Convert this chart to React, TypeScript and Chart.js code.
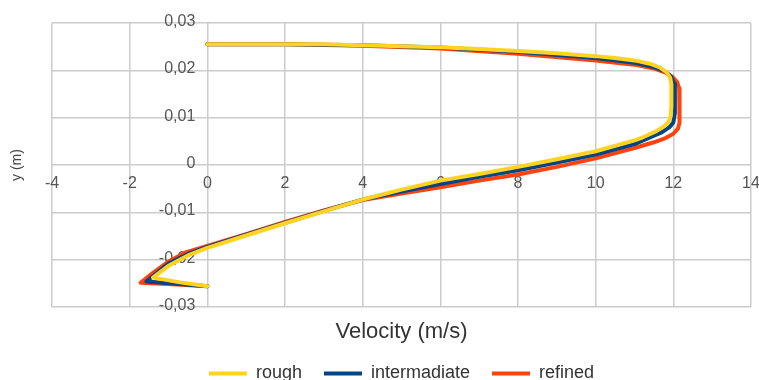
import React, { useEffect, useRef } from 'react';
import { Chart, registerables } from 'chart.js';

Chart.register(...registerables);

// ---- Data (velocity in m/s, position y in m) ----
const roughVel = [0, 1, 2, 3, 4, 5, 6, 7, 8, 9, 10, 10.5, 11, 11.4, 11.65, 11.82, 11.92, 11.95, 11.95, 11.93, 11.87, 11.75, 11.55, 11.2, 11, 10, 9, 8, 7, 6, 5, 4, 3, 2, 1, 0, -0.5, -1.0, -1.4, -0.7, 0];
const roughPos = [0.0255, 0.0255, 0.0255, 0.0255, 0.0253, 0.0251, 0.0249, 0.0245, 0.0241, 0.0236, 0.0230, 0.0226, 0.0221, 0.0214, 0.0206, 0.0196, 0.0184, 0.0170, 0.0125, 0.0102, 0.0090, 0.0081, 0.0071, 0.0058, 0.0052, 0.0029, 0.0012, -0.0004, -0.0019, -0.0033, -0.0052, -0.0073, -0.0098, -0.0123, -0.0149, -0.0175, -0.0191, -0.0213, -0.0238, -0.0248, -0.0256];

const intermVel = [0, 2, 4, 6, 8, 10, 11, 11.5, 11.8, 11.95, 12.02, 12.04, 12.04, 12.0, 11.9, 11.7, 11.5, 11, 10, 9, 8, 7, 6, 5, 4, 3, 2, 1, 0, -0.5, -1.0, -1.57, -0.8, 0];
const intermPos = [0.0255, 0.0255, 0.0253, 0.0248, 0.0239, 0.0226, 0.0216, 0.0207, 0.0197, 0.0186, 0.0172, 0.0150, 0.0110, 0.0090, 0.0080, 0.0069, 0.0062, 0.0044, 0.0022, 0.0005, -0.0011, -0.0025, -0.0040, -0.0056, -0.0073, -0.0097, -0.0122, -0.0147, -0.0173, -0.0188, -0.0208, -0.0246, -0.0251, -0.0256];

const refinedVel = [0, 2, 4, 6, 8, 10, 11, 11.5, 11.8, 11.98, 12.1, 12.15, 12.16, 12.12, 12.0, 11.8, 11.5, 11, 10, 9, 8, 7, 6, 5, 4, 3, 2, 1, 0, -0.54, -1.0, -1.4, -1.72, -0.9, 0];
const refinedPos = [0.0255, 0.0255, 0.0252, 0.0246, 0.0235, 0.0221, 0.0212, 0.0204, 0.0195, 0.0186, 0.0175, 0.0162, 0.0090, 0.0077, 0.0066, 0.0057, 0.0048, 0.0036, 0.0014, -0.0004, -0.0020, -0.0033, -0.0047, -0.0060, -0.0074, -0.0096, -0.0120, -0.0146, -0.0171, -0.0184, -0.0204, -0.0228, -0.0249, -0.0252, -0.0256];

const seriesNames = ['rough', 'intermadiate', 'refined'];
const seriesColors = ['#ffd320', '#004586', '#ff420e'];

const xTicks = [-4, -2, 0, 2, 4, 6, 8, 10, 12, 14];
const xTickLabels = ['-4', '-2', '0', '2', '4', '6', '8', '10', '12', '14'];
const yTicks = [-0.03, -0.02, -0.01, 0, 0.01, 0.02, 0.03];
const yTickLabels = ['-0,03', '-0,02', '-0,01', '0', '0,01', '0,02', '0,03'];

const xTitle = 'Velocity (m/s)';
const yTitle = 'y (m)';

const FONT = '"Liberation Sans", Arial, sans-serif';

const toPoints = (vel: number[], pos: number[]) => vel.map((v, i) => ({ x: v, y: pos[i] }));

const crossLabels = {
  id: 'crossLabels',
  beforeDatasetsDraw(chart: any) {
    const { ctx, scales } = chart;
    const xs = scales.x;
    const ys = scales.y;
    const x0 = xs.getPixelForValue(0);
    const y0 = ys.getPixelForValue(0);
    ctx.save();
    ctx.font = `16px ${FONT}`;
    ctx.fillStyle = '#555555';
    ctx.textBaseline = 'middle';
    ctx.textAlign = 'right';
    yTicks.forEach((v, i) => {
      ctx.fillText(yTickLabels[i], x0 - 12, ys.getPixelForValue(v) - 1.5);
    });
    ctx.textAlign = 'center';
    xTicks.forEach((v, i) => {
      ctx.fillText(xTickLabels[i], xs.getPixelForValue(v), y0 + 19);
    });
    ctx.restore();
  },
};

export default function App() {
  const canvasRef = useRef<HTMLCanvasElement | null>(null);

  useEffect(() => {
    const canvas = canvasRef.current;
    if (!canvas) return;
    const datasets = [
      toPoints(roughVel, roughPos),
      toPoints(intermVel, intermPos),
      toPoints(refinedVel, refinedPos),
    ].map((data, i) => ({
      label: seriesNames[i],
      data,
      showLine: true,
      borderColor: seriesColors[i],
      backgroundColor: seriesColors[i],
      borderWidth: 4,
      pointRadius: 0,
      pointHoverRadius: 0,
      tension: 0,
      borderJoinStyle: 'round' as const,
      borderCapStyle: 'round' as const,
    }));

    const chart = new Chart(canvas, {
      type: 'scatter',
      data: { datasets },
      plugins: [crossLabels],
      options: {
        animation: false,
        responsive: false,
        events: [],
        layout: { padding: { top: 23, right: 8, bottom: -12.5, left: 0 } },
        scales: {
          x: {
            type: 'linear',
            min: -4,
            max: 14,
            afterBuildTicks: (s: any) => {
              s.ticks = xTicks.map((v) => ({ value: v }));
            },
            ticks: { display: false },
            grid: { color: '#cccccc', lineWidth: 1.5, drawTicks: false },
            border: { display: false },
          },
          y: {
            type: 'linear',
            min: -0.03,
            max: 0.03,
            afterBuildTicks: (s: any) => {
              s.ticks = yTicks.map((v) => ({ value: v }));
            },
            ticks: { display: false },
            grid: { color: '#cccccc', lineWidth: 1.5, drawTicks: false },
            border: { display: false },
          },
        },
        plugins: {
          tooltip: { enabled: false },
          title: {
            display: true,
            text: xTitle,
            position: 'bottom',
            fullSize: false,
            weight: 500,
            color: '#333333',
            font: { family: FONT, size: 22, weight: 'normal', lineHeight: 1 },
            padding: { top: 14, bottom: -0.5 },
          },
          subtitle: {
            display: true,
            text: yTitle,
            position: 'left',
            fullSize: false,
            color: '#444444',
            font: { family: FONT, size: 14, weight: 'normal', lineHeight: 1.2 },
            padding: { top: 8.6, bottom: 26.6 },
          },
          legend: {
            display: true,
            position: 'bottom',
            fullSize: false,
            labels: {
              boxWidth: 38,
              boxHeight: 4,
              padding: 22,
              color: '#333333',
              font: { family: FONT, size: 18 },
              generateLabels: (c: any) =>
                Chart.defaults.plugins.legend.labels
                  .generateLabels(c)
                  .map((l: any) => ({ ...l, lineWidth: 0, fillStyle: l.strokeStyle })),
            },
          },
        },
      } as any,
    });
    return () => chart.destroy();
  }, []);

  return (
    <div style={{ position: 'absolute', left: 0, top: 0, width: 759, height: 380 }}>
      <canvas ref={canvasRef} width={759} height={380} style={{ display: 'block' }} />
    </div>
  );
}
